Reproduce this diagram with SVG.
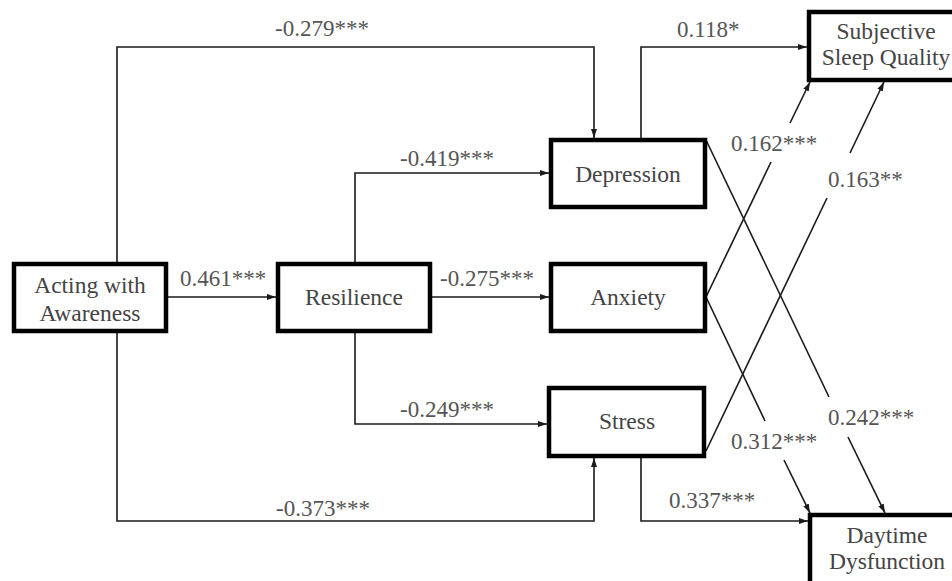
<svg xmlns="http://www.w3.org/2000/svg" width="952" height="581" viewBox="0 0 952 581">
  <defs>
    <marker id="arrow" markerUnits="userSpaceOnUse" markerWidth="10" markerHeight="8" refX="9" refY="4" orient="auto">
      <path d="M0,1 L9,4 L0,7 Z" fill="#1a1a1a"/>
    </marker>
    <style>
      .box rect { fill: #ffffff; stroke: #000000; stroke-width: 4.5; }
      .box text { font-size: 23.5px; fill: #444444; text-anchor: middle; }
      .edges path { fill: none; stroke: #1a1a1a; stroke-width: 1.6; }
      .edges .arr { marker-end: url(#arrow); }
      .lbl { font-size: 23px; fill: #555555; }
    </style>
  </defs>
  <rect width="952" height="581" fill="#ffffff"/>

  <!-- connectors -->
  <g class="edges">
    <!-- Acting with Awareness -> Depression (over the top) -->
    <path class="arr" d="M117,262 V47 H594 V138"/>
    <!-- Acting with Awareness -> Stress (under the bottom) -->
    <path class="arr" d="M117,333 V521 H594 V458"/>
    <!-- Acting with Awareness -> Resilience -->
    <path class="arr" d="M168,297 H276"/>
    <!-- Resilience -> Depression -->
    <path class="arr" d="M355,262 V173 H549"/>
    <!-- Resilience -> Anxiety -->
    <path class="arr" d="M430,297 H549"/>
    <!-- Resilience -> Stress -->
    <path class="arr" d="M355,333 V424 H547"/>
    <!-- Depression -> Subjective Sleep Quality -->
    <path class="arr" d="M641,138 V47 H807"/>
    <!-- Stress -> Daytime Dysfunction -->
    <path class="arr" d="M641,458 V521 H808"/>
    <!-- Depression -> Daytime Dysfunction (broken around its label) -->
    <path d="M706,140 L829,397"/>
    <path class="arr" d="M848,437 L885,513"/>
    <!-- Anxiety -> Subjective Sleep Quality (broken around its label) -->
    <path d="M706,297 L771,162"/>
    <path class="arr" d="M790,123 L810,82"/>
    <!-- Anxiety -> Daytime Dysfunction (broken around its label) -->
    <path d="M706,297 L765,421"/>
    <path class="arr" d="M784,460 L810,513"/>
    <!-- Stress -> Subjective Sleep Quality (broken around its label) -->
    <path d="M706,451 L827,198"/>
    <path class="arr" d="M850,153 L884,82"/>
  </g>

  <!-- path coefficients -->
  <g class="labels" font-family="'Liberation Serif', 'DejaVu Serif', serif">
    <text class="lbl" x="275" y="36">-0.279***</text>
    <text class="lbl" x="677" y="37">0.118*</text>
    <text class="lbl" x="400" y="166">-0.419***</text>
    <text class="lbl" x="731" y="151">0.162***</text>
    <text class="lbl" x="828" y="187">0.163**</text>
    <text class="lbl" x="180" y="286">0.461***</text>
    <text class="lbl" x="440" y="286">-0.275***</text>
    <text class="lbl" x="400" y="417">-0.249***</text>
    <text class="lbl" x="828" y="425">0.242***</text>
    <text class="lbl" x="731" y="449">0.312***</text>
    <text class="lbl" x="669" y="508">0.337***</text>
    <text class="lbl" x="276" y="516">-0.373***</text>
  </g>

  <!-- nodes -->
  <g font-family="'Liberation Serif', 'DejaVu Serif', serif">
    <g id="acting" class="box">
      <rect x="14" y="264" width="152" height="67"/>
      <text x="90" y="293">Acting with</text>
      <text x="90" y="321">Awareness</text>
    </g>
    <g id="resilience" class="box">
      <rect x="278" y="264" width="152" height="67"/>
      <text x="354" y="305">Resilience</text>
    </g>
    <g id="depression" class="box">
      <rect x="551" y="140" width="154" height="67"/>
      <text x="628" y="182">Depression</text>
    </g>
    <g id="anxiety" class="box">
      <rect x="551" y="264" width="154" height="67"/>
      <text x="628" y="305">Anxiety</text>
    </g>
    <g id="stress" class="box">
      <rect x="549" y="388" width="155" height="68"/>
      <text x="627" y="429">Stress</text>
    </g>
    <g id="sleep-quality" class="box">
      <rect x="809" y="12" width="154" height="68"/>
      <text x="886" y="39">Subjective</text>
      <text x="886" y="65">Sleep Quality</text>
    </g>
    <g id="daytime-dysfunction" class="box">
      <rect x="810" y="515" width="154" height="72"/>
      <text x="887" y="543">Daytime</text>
      <text x="887" y="569">Dysfunction</text>
    </g>
  </g>
</svg>
